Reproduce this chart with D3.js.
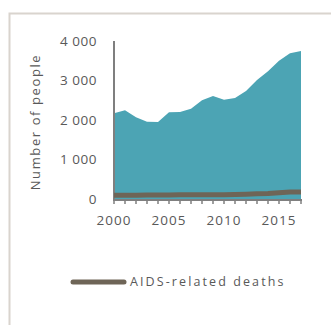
<!DOCTYPE html>
<html><head><meta charset="utf-8">
<script src="https://cdn.jsdelivr.net/npm/d3@7"></script>
<style>body{margin:0;background:#fff}svg{display:block}</style>
</head><body>
<svg id="c" width="331" height="325"></svg>
<script>
const years = [2000,2001,2002,2003,2004,2005,2006,2007,2008,2009,2010,2011,2012,2013,2014,2015,2016,2017];
const areaValues = [2170,2245,2068,1957,1950,2195,2203,2286,2498,2608,2515,2557,2734,3013,3232,3501,3688,3747];
const deaths = [95,97,98,100,102,104,105,107,108,110,110,112,120,130,140,160,175,180];
const yTicks = [0,1000,2000,3000,4000];
const xTickLabels = [2000,2005,2010,2015];
const yTitle = "Number of people";
const legendLabel = "AIDS-related deaths";

const svg = d3.select("#c");
const font = "'Open Sans', sans-serif";
const gray = "#595959";

// frame
svg.append("path").attr("d","M9.5,340 V13.5 H340").attr("fill","none").attr("stroke","#d9d4ce").attr("stroke-width",2);

const x = d3.scaleLinear().domain([2000,2017]).range([114,301]);
const y = d3.scaleLinear().domain([0,4000]).range([199,41]);

const area = d3.area().x((d,i)=>x(years[i])).y0(y(0)).y1(d=>y(d));
svg.append("path").datum(areaValues).attr("d",area).attr("fill","#4ca4b4");

// axes
svg.append("line").attr("x1",114).attr("x2",114).attr("y1",y(4000)).attr("y2",y(0)+1).attr("stroke","#7f7f7f").attr("stroke-width",2);
svg.append("line").attr("x1",113).attr("x2",x(2017)+1).attr("y1",y(0)+1).attr("y2",y(0)+1).attr("stroke","#7f7f7f").attr("stroke-width",2);
svg.selectAll(".xt").data(years).enter().append("line")
  .attr("x1",d=>x(d)).attr("x2",d=>x(d)).attr("y1",y(0)+1).attr("y2",y(0)+5)
  .attr("stroke","#7f7f7f").attr("stroke-width",1.5);

const line = d3.line().x((d,i)=>x(years[i])).y(d=>y(d));
svg.append("path").datum(deaths).attr("d",line).attr("fill","none").attr("stroke","#6e6557").attr("stroke-width",5);

svg.selectAll(".yl").data(yTicks).enter().append("text")
  .attr("x",97).attr("y",d=>y(d)).attr("dy","0.35em").attr("text-anchor","end")
  .attr("font-family",font).attr("font-size",13.5).attr("fill",gray).attr("letter-spacing",0.5)
  .text(d=>d3.format(",")(d).replace(/,/g," "));

svg.selectAll(".xl").data(xTickLabels).enter().append("text")
  .attr("x",d=>x(d)).attr("y",225).attr("text-anchor","middle")
  .attr("font-family",font).attr("font-size",13.5).attr("fill",gray).attr("letter-spacing",1)
  .text(d=>d);

svg.append("text").attr("transform","translate(40,122) rotate(-90)").attr("text-anchor","middle")
  .attr("font-family",font).attr("font-size",13).attr("fill",gray).attr("letter-spacing",1.6)
  .text(yTitle);

// legend
svg.append("line").attr("x1",73).attr("x2",124).attr("y1",282).attr("y2",282)
  .attr("stroke","#6e6557").attr("stroke-width",5).attr("stroke-linecap","round");
svg.append("text").attr("x",130).attr("y",282).attr("dy","0.35em")
  .attr("font-family",font).attr("font-size",12.5).attr("fill",gray).attr("letter-spacing",2.1)
  .text(legendLabel);
</script>
</body></html>
